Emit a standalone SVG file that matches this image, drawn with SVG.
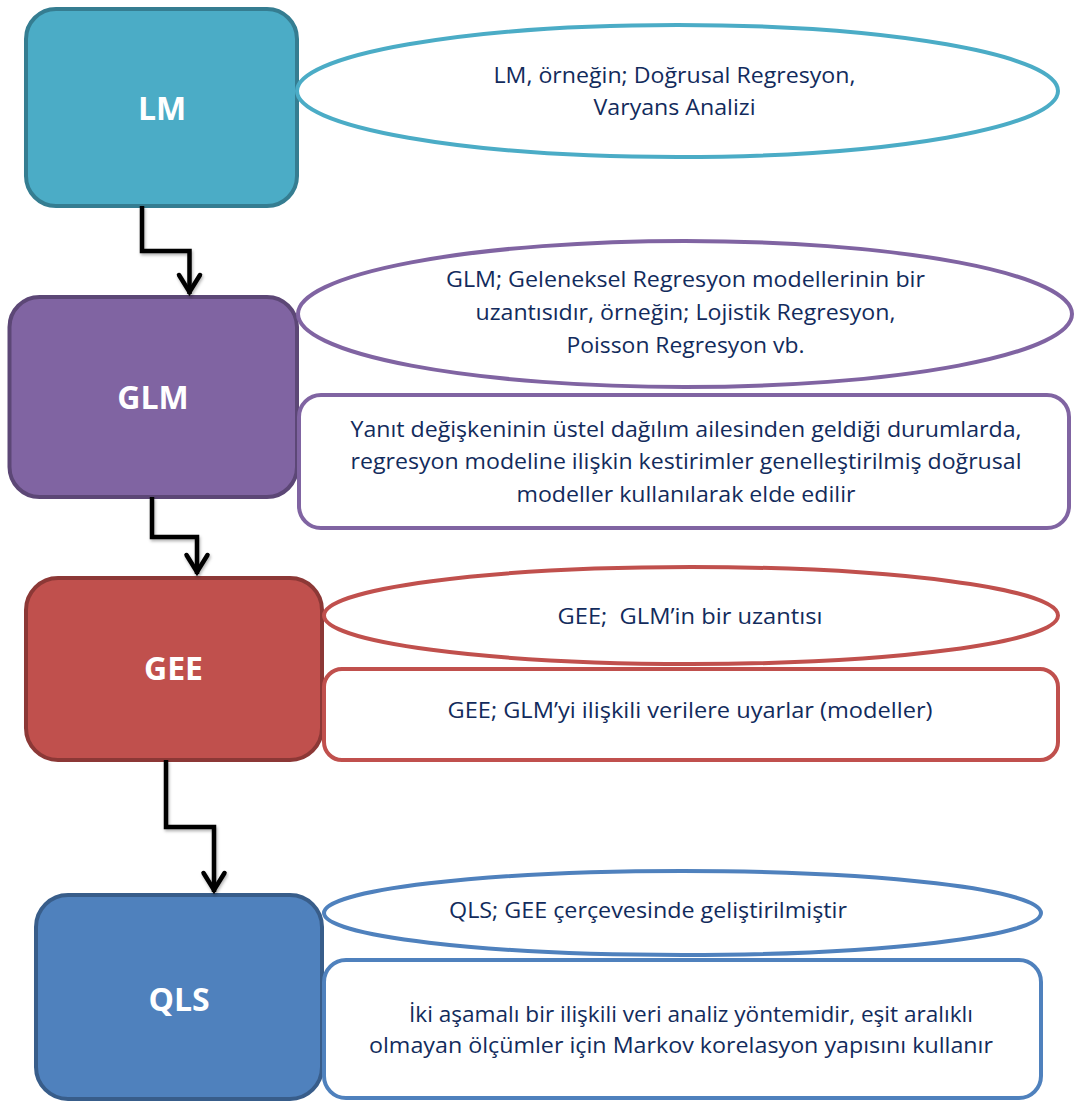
<svg xmlns="http://www.w3.org/2000/svg" width="1076" height="1102" viewBox="0 0 1076 1102">
<defs>
<style>
.lbl{font-family:"Open Sans","Liberation Sans",sans-serif;font-weight:bold;font-size:32px;fill:#ffffff;text-anchor:middle}
.t{font-family:"Open Sans","Liberation Sans",sans-serif;font-size:21px;fill:#122B5C;text-anchor:middle}
.box{stroke-width:4}
.note{fill:#ffffff;stroke-width:4}
.conn{fill:none;stroke:#000000;stroke-width:4.5;stroke-linejoin:miter}
</style>
<marker id="arr" markerUnits="userSpaceOnUse" viewBox="-24 -14 28 28" markerWidth="28" markerHeight="28" refX="0" refY="0" orient="auto" overflow="visible">
<path d="M -19 -10.5 L -2 0 L -19 10.5" fill="none" stroke="#000000" stroke-width="4.5" stroke-linecap="round"/>
</marker>
<filter id="sh" x="-20%" y="-20%" width="140%" height="140%">
<feDropShadow dx="1" dy="2" stdDeviation="1.5" flood-color="#000000" flood-opacity="0.3"/>
</filter>
</defs>

<g id="lm">
<rect class="box" x="26" y="9" width="271" height="197" rx="30" fill="#4BACC6" stroke="#357D91"/>
<text class="lbl" x="162" y="120">LM</text>
</g>
<g id="glm">
<rect class="box" x="9.5" y="297" width="287.5" height="200" rx="30" fill="#8064A2" stroke="#5C4776"/>
<text class="lbl" x="153" y="409">GLM</text>
</g>
<g id="gee">
<rect class="box" x="26" y="578" width="296" height="182" rx="32" fill="#C0504D" stroke="#8C3836"/>
<text class="lbl" x="173.5" y="680">GEE</text>
</g>
<g id="qls">
<rect class="box" x="36" y="895" width="286" height="204" rx="32" fill="#4F81BD" stroke="#385D8A"/>
<text class="lbl" x="179" y="1011">QLS</text>
</g>

<g id="lm-note">
<ellipse class="note" cx="677.5" cy="91" rx="380.5" ry="66" stroke="#4BACC6"/>
<text class="t" x="674.5" y="83" textLength="362" lengthAdjust="spacingAndGlyphs">LM, örneğin; Doğrusal Regresyon,</text>
<text class="t" x="674.5" y="115" textLength="162" lengthAdjust="spacingAndGlyphs">Varyans Analizi</text>
</g>
<g id="glm-note1">
<ellipse class="note" cx="685" cy="314" rx="387" ry="73" stroke="#8064A2"/>
<text class="t" x="685.5" y="287" textLength="479" lengthAdjust="spacingAndGlyphs">GLM; Geleneksel Regresyon modellerinin bir</text>
<text class="t" x="685.5" y="320" textLength="420" lengthAdjust="spacingAndGlyphs">uzantısıdır, örneğin; Lojistik Regresyon,</text>
<text class="t" x="685.5" y="353" textLength="238" lengthAdjust="spacingAndGlyphs">Poisson Regresyon vb.</text>
</g>
<g id="glm-note2">
<rect class="note" x="299" y="395" width="770" height="133" rx="22" stroke="#8064A2"/>
<text class="t" x="686" y="437" textLength="671" lengthAdjust="spacingAndGlyphs">Yanıt değişkeninin üstel dağılım ailesinden geldiği durumlarda,</text>
<text class="t" x="686" y="469" textLength="671" lengthAdjust="spacingAndGlyphs">regresyon modeline ilişkin kestirimler genelleştirilmiş doğrusal</text>
<text class="t" x="686" y="502" textLength="339" lengthAdjust="spacingAndGlyphs">modeller kullanılarak elde edilir</text>
</g>
<g id="gee-note1">
<ellipse class="note" cx="691" cy="615.5" rx="367" ry="48.5" stroke="#C0504D"/>
<text class="t" x="690" y="624" textLength="265" lengthAdjust="spacingAndGlyphs" xml:space="preserve">GEE;  GLM’in bir uzantısı</text>
</g>
<g id="gee-note2">
<rect class="note" x="324" y="669" width="734" height="91" rx="18" stroke="#C0504D"/>
<text class="t" x="690" y="718" textLength="485" lengthAdjust="spacingAndGlyphs">GEE; GLM’yi ilişkili verilere uyarlar (modeller)</text>
</g>
<g id="qls-note1">
<ellipse class="note" cx="682.5" cy="913" rx="358.5" ry="42" stroke="#4F81BD"/>
<text class="t" x="648" y="918" textLength="398" lengthAdjust="spacingAndGlyphs">QLS; GEE çerçevesinde geliştirilmiştir</text>
</g>
<g id="qls-note2">
<rect class="note" x="324" y="960" width="717" height="138" rx="22" stroke="#4F81BD"/>
<text class="t" x="691" y="1022" textLength="564" lengthAdjust="spacingAndGlyphs">İki aşamalı bir ilişkili veri analiz yöntemidir, eşit aralıklı</text>
<text class="t" x="681" y="1053" textLength="624" lengthAdjust="spacingAndGlyphs">olmayan ölçümler için Markov korelasyon yapısını kullanır</text>
</g>

<g id="connectors" filter="url(#sh)">
<path class="conn" d="M 142 206 V 251 H 189.5 V 294" marker-end="url(#arr)"/>
<path class="conn" d="M 152 497 V 537 H 197 V 574" marker-end="url(#arr)"/>
<path class="conn" d="M 166 760 V 827 H 214 V 892" marker-end="url(#arr)"/>
</g>
</svg>
